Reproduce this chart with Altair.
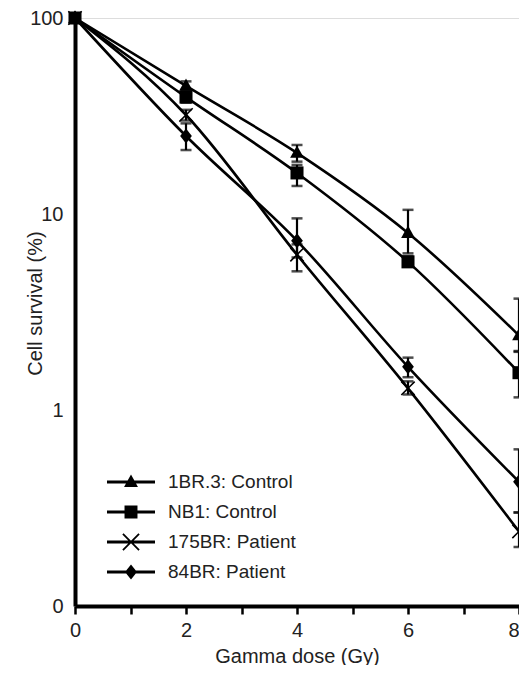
import math
import altair as alt
import pandas as pd

# ---- data ----
doses = [0, 2, 4, 6, 8]
series = ["1BR.3: Control", "NB1: Control", "175BR: Patient", "84BR: Patient"]

br13 = [100, 45, 20.5, 8.0, 2.4]
br13_lo = [None, 43, 18.5, 6.3, 2.0]
br13_hi = [None, 47.5, 22.5, 10.5, 3.7]

nb1 = [100, 39.5, 16.2, 5.7, 1.55]
nb1_lo = [None, 37, 13.9, 5.4, 1.16]
nb1_hi = [None, 42, 17.8, 6.1, 1.98]

p175 = [100, 32, 6.2, 1.29, 0.24]
p175_lo = [None, 30, 5.1, 1.2, 0.2]
p175_hi = [None, 34, 7.0, 1.4, 0.3]

p84 = [100, 25, 7.3, 1.66, 0.43]
p84_lo = [None, 21.2, 6.0, 1.47, 0.3]
p84_hi = [None, 29, 9.5, 1.85, 0.63]

y_ticks = [0.1, 1, 10, 100]
x_ticks = [i * 0.5 for i in range(17)]

rows = []
for name, vals, lo, hi in [
    (series[0], br13, br13_lo, br13_hi),
    (series[1], nb1, nb1_lo, nb1_hi),
    (series[2], p175, p175_lo, p175_hi),
    (series[3], p84, p84_lo, p84_hi),
]:
    for d, v, l, h in zip(doses, vals, lo, hi):
        rows.append({"series": name, "dose": d, "value": v, "lo": l, "hi": h})
df = pd.DataFrame(rows)

# ---- marker shapes (unit paths) ----
def xpoly(a, t, dx=0.0):
    pts = [(-t, -a), (t, -a), (t, -t), (a, -t), (a, t), (t, t), (t, a), (-t, a),
           (-t, t), (-a, t), (-a, -t), (-t, -t)]
    r = 1 / math.sqrt(2)
    pts = [((x - y) * r + dx, (x + y) * r) for x, y in pts]
    return "M" + "L".join(f"{x:.3f},{y:.3f}" for x, y in pts) + "Z"

mark_paths = [
    "M0,-1.15L1.05,0.75L-1.05,0.75Z",
    "M-1,-1L1,-1L1,1L-1,1Z",
    xpoly(1.45, 0.12),
    "M0,-1.15L0.9,0L0,1.15L-0.9,0Z",
]

# legend symbols: 12 px per unit, line 48 px long with the marker at its middle
line_part = "M-2,-0.12L2,-0.12L2,0.12L-2,0.12Z"
legend_paths = [
    line_part + "M0,-0.62L0.58,0.42L-0.58,0.42Z",
    line_part + "M-0.54,-0.54L0.54,-0.54L0.54,0.54L-0.54,0.54Z",
    line_part + xpoly(0.95, 0.075),
    line_part + "M0,-0.62L0.5,0L0,0.62L-0.5,0Z",
]

FONT = "Liberation Sans"

x_enc = alt.X(
    "dose:Q",
    scale=alt.Scale(domain=[0, 8], nice=False, zero=False),
    axis=alt.Axis(
        values=x_ticks,
        labelExpr="datum.value % 2 == 0 ? format(datum.value, 'd') : ''",
        labelAlign={"condition": {"test": "datum.value == 8", "value": "right"}, "value": "center"},
        title="Gamma dose (Gy)",
        grid=False,
        domainColor="black",
        domainWidth=4,
        tickColor="black",
        tickWidth=2.5,
        tickSize=8,
        labelFont=FONT,
        labelFontSize=20,
        labelColor="#222",
        labelPadding=6,
        labelFlush=False,
        titleFont=FONT,
        titleFontSize=20,
        titleFontWeight="normal",
        titleColor="#222",
        titlePadding=6,
    ),
)
y_enc = alt.Y(
    "value:Q",
    scale=alt.Scale(type="log", domain=[0.1, 100], nice=False),
    axis=alt.Axis(
        values=y_ticks,
        labelExpr="datum.value < 0.5 ? '0' : format(datum.value, 'd')",
        title="Cell survival (%)",
        grid=False,
        ticks=False,
        domainColor="black",
        domainWidth=4,
        labelFont=FONT,
        labelFontSize=20,
        labelColor="#222",
        labelPadding=12,
        labelFlush=False,
        titleFont=FONT,
        titleFontSize=20,
        titleFontWeight="normal",
        titleColor="#222",
        titleAngle=270,
        titleAlign="center",
        titleBaseline="middle",
        titleX=-40,
        titleY=285,
    ),
)

base = alt.Chart(df)

lines = base.mark_line(color="black", strokeWidth=2.6, interpolate="monotone").encode(
    x=x_enc, y=y_enc, detail="series:N"
)

err = base.transform_filter("isValid(datum.lo)")
bars = err.mark_rule(color="black", strokeWidth=2.2).encode(
    x="dose:Q", y="lo:Q", y2="hi:Q"
)
cap_lo = err.mark_tick(color="black", orient="horizontal", size=11, thickness=2.5).encode(
    x="dose:Q", y="lo:Q"
)
cap_hi = err.mark_tick(color="black", orient="horizontal", size=11, thickness=2.5).encode(
    x="dose:Q", y="hi:Q"
)

points = base.mark_point(filled=True, color="black", opacity=1, size=170, strokeWidth=0).encode(
    x="dose:Q",
    y="value:Q",
    shape=alt.Shape("series:N", scale=alt.Scale(domain=series, range=mark_paths), legend=None),
)

legend_layer = base.mark_point(filled=True, color="black", opacity=0, size=576).encode(
    x="dose:Q",
    y="value:Q",
    shape=alt.Shape(
        "series:N",
        scale=alt.Scale(domain=series, range=legend_paths),
        legend=alt.Legend(
            title=None,
            orient="none",
            legendX=44,
            legendY=452,
            padding=0,
            symbolSize=576,
            symbolOpacity=1,
            symbolFillColor="black",
            symbolStrokeWidth=0,
            labelFont=FONT,
            labelFontSize=19,
            labelColor="#222",
            labelOffset=25,
            rowPadding=8,
        ),
    ),
)

chart = (
    alt.layer(lines, bars, cap_lo, cap_hi, points, legend_layer)
    .resolve_scale(shape="independent")
    .properties(
        width=444,
        height=588,
        autosize=alt.AutoSizeParams(type="none"),
        padding={"left": 67, "top": 10, "right": 0, "bottom": 59},
    )
    .configure_view(strokeWidth=0, stroke="transparent")
    .configure(background="white")
)

chart.save("out.html", embed_options={"renderer": "svg", "actions": False})
